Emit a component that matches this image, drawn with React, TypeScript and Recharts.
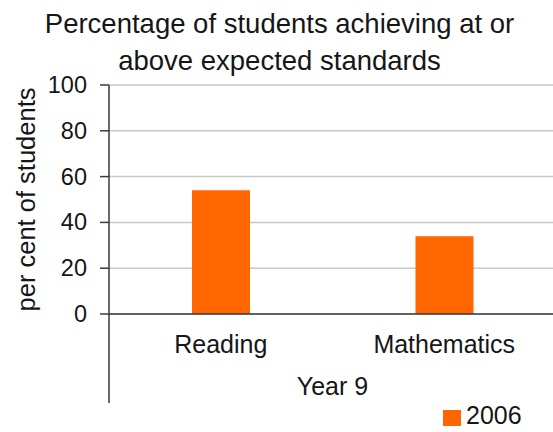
import { BarChart, Bar, XAxis, YAxis, CartesianGrid, Legend } from 'recharts';

const categories = ['Reading', 'Mathematics'];
const values2006 = [54, 34];
const groupLabel = 'Year 9';
const seriesName = '2006';
const yTicks = [0, 20, 40, 60, 80, 100];
const titleLines = ['Percentage of students achieving at or', 'above expected standards'];
const yAxisTitle = 'per cent of students';

const FONT = '"Liberation Sans", Arial, Helvetica, sans-serif';
const ORANGE = '#FF6600';
const AXIS = '#3a3a3a';
const TEXT = '#161616';

const data = categories.map((name, i) => ({ name, group: groupLabel, v2006: values2006[i] }));

// lower axis: the group label plus the Excel-style divider lines
const GroupTick = (props: any) => {
  const { x, y, width, payload } = props;
  const half = typeof width === 'number' ? width / 2 : 0;
  return (
    <g>
      {half > 0 && (
        <>
          <line x1={x - half} x2={x - half} y1={y - 63} y2={y + 26} stroke={AXIS} strokeWidth={1.5} />
          <line x1={x + half} x2={x + half} y1={y - 63} y2={y + 26} stroke={AXIS} strokeWidth={1.5} />
        </>
      )}
      <text x={x} y={y} dy={18} textAnchor="middle" fontSize={25} fill={TEXT} fontFamily={FONT}>
        {payload.value}
      </text>
    </g>
  );
};

const ValueTick = (props: any) => {
  const { x, y, payload } = props;
  return (
    <text x={x} y={y} dy={8} textAnchor="end" fontSize={23.5} fill={TEXT} fontFamily={FONT}>
      {payload.value}
    </text>
  );
};

const YTitle = (props: any) => {
  const vb = props.viewBox || { x: 0, y: 85, width: 109, height: 229 };
  const cx = vb.x + 26;
  const cy = vb.y + vb.height / 2;
  return (
    <text
      x={cx}
      y={cy}
      transform={`rotate(-90, ${cx}, ${cy})`}
      textAnchor="middle"
      dominantBaseline="central"
      fontSize={25.5}
      fill={TEXT}
      fontFamily={FONT}
    >
      {yAxisTitle}
    </text>
  );
};

const LegendContent = ({ payload }: any) => (
  <div style={{ display: 'flex', alignItems: 'flex-start', fontFamily: FONT }}>
    {(payload || []).map((entry: any, i: number) => (
      <div key={i} style={{ display: 'flex', alignItems: 'flex-start' }}>
        <div style={{ width: 18, height: 16, marginTop: 7, backgroundColor: entry.color }} />
        <span style={{ marginLeft: 5, fontSize: 25, lineHeight: '25px', color: TEXT }}>{entry.value}</span>
      </div>
    ))}
  </div>
);

export default function App() {
  return (
    <div style={{ position: 'relative', width: 553, height: 432, overflow: 'hidden', background: '#fff', fontFamily: FONT }}>
      <style>{'body{margin:0}'}</style>
      <div
        style={{
          position: 'absolute',
          top: 5,
          left: 3,
          width: 553,
          textAlign: 'center',
          fontSize: 27.5,
          lineHeight: '37px',
          color: TEXT,
          zIndex: 2,
        }}
      >
        {titleLines.map((t) => (
          <div key={t}>{t}</div>
        ))}
      </div>
      <BarChart width={556} height={432} data={data} margin={{ top: 85, right: 0, bottom: 28, left: 0 }}>
        <CartesianGrid vertical={false} stroke="#c8c8c8" strokeWidth={1.5} />
        <XAxis
          dataKey="name"
          height={40}
          axisLine={{ stroke: AXIS, strokeWidth: 1.5 }}
          tickLine={false}
          tickSize={0}
          tickMargin={21}
          tick={{ fontSize: 25, fill: TEXT, fontFamily: FONT }}
        />
        <XAxis
          xAxisId="group"
          dataKey="group"
          allowDuplicatedCategory={false}
          height={50}
          axisLine={false}
          tickLine={false}
          tickSize={0}
          tickMargin={23}
          tick={<GroupTick />}
        />
        <YAxis
          width={109}
          domain={[0, 100]}
          ticks={yTicks}
          interval={0}
          axisLine={{ stroke: AXIS, strokeWidth: 1.5 }}
          tickLine={{ stroke: AXIS, strokeWidth: 1.5 }}
          tickSize={9}
          tickMargin={13}
          tick={<ValueTick />}
          label={{ content: <YTitle /> }}
        />
        <Legend
          layout="horizontal"
          verticalAlign="middle"
          align="center"
          wrapperStyle={{ left: 443, top: 403, width: 110 }}
          content={<LegendContent />}
        />
        <Bar dataKey="v2006" name={seriesName} fill={ORANGE} barSize={58} isAnimationActive={false} />
      </BarChart>
    </div>
  );
}
